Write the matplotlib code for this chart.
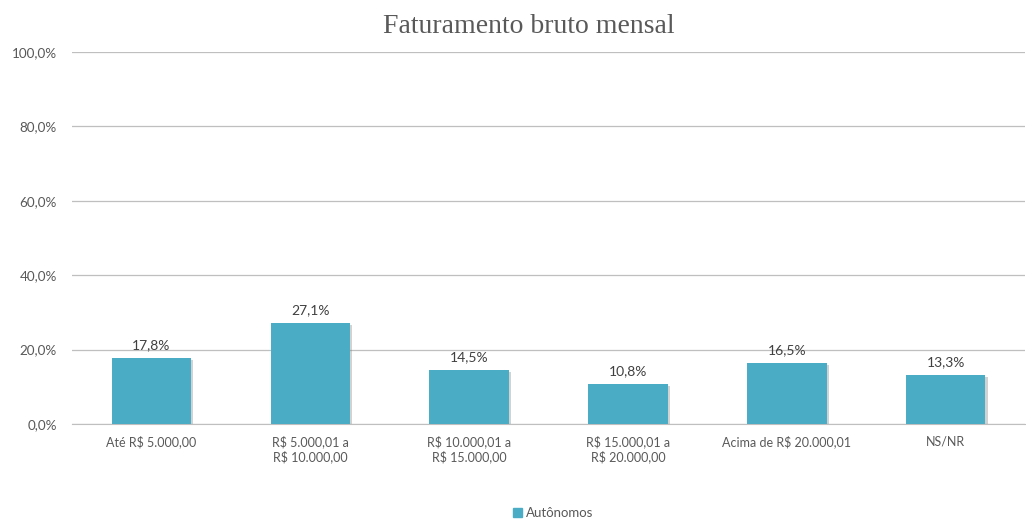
import matplotlib.pyplot as plt
import matplotlib.patheffects as pe
from matplotlib.patches import Patch
import numpy as np

categorias = ['Até R$ 5.000,00', 'R$ 5.000,01 a\nR$ 10.000,00', 'R$ 10.000,01 a\nR$ 15.000,00',
              'R$ 15.000,01 a\nR$ 20.000,00', 'Acima de R$ 20.000,01', 'NS/NR']
autonomos = [17.8, 27.1, 14.5, 10.8, 16.5, 13.3]
yticks = [0, 20, 40, 60, 80, 100]
cor = '#4BACC6'

plt.rcParams['font.family'] = ['Lato', 'DejaVu Sans']

fig = plt.figure(figsize=(10.26, 5.22), dpi=100)
ax = fig.add_axes([0.0702, 0.1877, 0.929, 0.7127])

x = np.arange(len(categorias))
ax.bar(x, autonomos, width=0.5, color=cor, zorder=3,
       path_effects=[pe.SimplePatchShadow(offset=(1.5, -1.5), shadow_rgbFace='#808080', alpha=0.35), pe.Normal()])

for xi, v in zip(x, autonomos):
    ax.text(xi, v + 1.8, f'{v:.1f}'.replace('.', ',') + '%', ha='center', va='bottom',
            fontsize=10, color='#404040')

ax.set_xlim(-0.5, len(categorias) - 0.5)
ax.set_ylim(0, 100)
ax.set_yticks(yticks)
ax.set_yticklabels([f'{t:.1f}'.replace('.', ',') + '%' for t in yticks], fontsize=9.7, color='#595959')
ax.set_xticks(x)
ax.set_xticklabels(categorias, fontsize=9, color='#595959')
ax.tick_params(axis='both', length=0)
ax.tick_params(axis='y', pad=11)
ax.tick_params(axis='x', pad=8)
ax.grid(axis='y', color='#BFBFBF', linewidth=0.9, zorder=0)
for s in ['top', 'right', 'left']:
    ax.spines[s].set_visible(False)
ax.spines['bottom'].set_color('#BFBFBF')

fig.text(0.515, 0.95, 'Faturamento bruto mensal', ha='center', va='center',
         fontsize=20, color='#595959', family=['Liberation Serif', 'DejaVu Serif'])

fig.legend(handles=[Patch(color=cor, label='Autônomos')], loc='center', bbox_to_anchor=(0.539, 0.017),
           frameon=False, fontsize=9.5, handlelength=0.7, handleheight=0.7, handletextpad=0.3,
           labelcolor='#595959')

fig.savefig('out.png', dpi=100)
